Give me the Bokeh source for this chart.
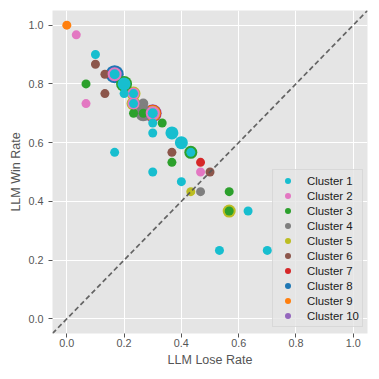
from bokeh.plotting import figure
from bokeh.models import (ColumnDataSource, Legend, LegendItem, Slope, FixedTicker,
                          Range1d, PrintfTickFormatter)
from bokeh.embed import file_html
from bokeh.resources import INLINE

# ---------------- data ----------------
cluster_names = ["Cluster 1", "Cluster 2", "Cluster 3", "Cluster 4", "Cluster 5",
                 "Cluster 6", "Cluster 7", "Cluster 8", "Cluster 9", "Cluster 10"]
cluster_colors = ["#17becf", "#e377c2", "#2ca02c", "#7f7f7f", "#bcbd22",
                  "#8c564b", "#d62728", "#1f77b4", "#ff7f0e", "#9467bd"]

c1_lose = [0.100, 0.167, 0.200, 0.200, 0.233, 0.233, 0.300, 0.300, 0.300, 0.367,
           0.400, 0.167, 0.433, 0.300, 0.400, 0.633, 0.533, 0.700]
c1_win = [0.900, 0.833, 0.800, 0.767, 0.767, 0.733, 0.700, 0.667, 0.633, 0.633,
          0.600, 0.567, 0.567, 0.500, 0.467, 0.367, 0.233, 0.233]
c1_size = [9, 10, 13, 9, 9, 9, 10, 9, 9, 13, 13, 9, 9, 9, 9, 9, 9, 9]

c2_lose = [0.033, 0.067, 0.167, 0.233, 0.233, 0.300, 0.467]
c2_win = [0.967, 0.733, 0.833, 0.767, 0.733, 0.700, 0.500]
c2_size = [9, 9, 14, 12, 12, 14, 9]

c3_lose = [0.067, 0.200, 0.233, 0.267, 0.333, 0.367, 0.433, 0.567, 0.567]
c3_win = [0.800, 0.800, 0.700, 0.700, 0.667, 0.533, 0.567, 0.433, 0.367]
c3_size = [9, 16, 9, 9, 9, 9, 13, 9, 9]

c4_lose = [0.267, 0.267, 0.467]
c4_win = [0.733, 0.700, 0.433]
c4_size = [10, 16, 9]

c5_lose = [0.233, 0.233, 0.300, 0.433, 0.567]
c5_win = [0.767, 0.733, 0.700, 0.433, 0.367]
c5_size = [14, 14, 15, 9, 13]

c6_lose = [0.100, 0.133, 0.133, 0.367, 0.500]
c6_win = [0.867, 0.833, 0.767, 0.567, 0.500]
c6_size = [9, 9, 9, 9, 9]

c7_lose = [0.467, 0.300]
c7_win = [0.533, 0.700]
c7_size = [9, 17]

c8_lose = [0.167]
c8_win = [0.833]
c8_size = [18]

c9_lose = [0.000, 0.300]
c9_win = [1.000, 0.700]
c9_size = [9, 16]

c10_lose = [0.300]
c10_win = [0.700]
c10_size = [18]

axis_ticks = [0.0, 0.2, 0.4, 0.6, 0.8, 1.0]

all_lose = [c1_lose, c2_lose, c3_lose, c4_lose, c5_lose, c6_lose, c7_lose, c8_lose, c9_lose, c10_lose]
all_win = [c1_win, c2_win, c3_win, c4_win, c5_win, c6_win, c7_win, c8_win, c9_win, c10_win]
all_size = [c1_size, c2_size, c3_size, c4_size, c5_size, c6_size, c7_size, c8_size, c9_size, c10_size]

# drawing order (0-based cluster index), bottom layer first
draw_order = [9, 6, 8, 7, 5, 4, 3, 2, 1, 0]

FONT = "Liberation Sans"

p = figure(width=379, height=379,
           x_range=Range1d(-0.05, 1.05), y_range=Range1d(-0.05, 1.05),
           output_backend="svg", toolbar_location=None,
           min_border_left=52, min_border_right=12, min_border_top=10, min_border_bottom=46,
           background_fill_color="#E5E5E5", border_fill_color="white",
           x_axis_label="LLM Lose Rate", y_axis_label="LLM Win Rate")
p.outline_line_color = None

for ax in (p.xaxis[0], p.yaxis[0]):
    ax.ticker = FixedTicker(ticks=axis_ticks)
    ax.formatter = PrintfTickFormatter(format="%.1f")
    ax.axis_line_color = None
    ax.major_tick_line_color = "#555555"
    ax.major_tick_out = 4
    ax.major_tick_in = 0
    ax.minor_tick_line_color = None
    ax.major_label_text_color = "#555555"
    ax.major_label_text_font = FONT
    ax.major_label_text_font_size = "10.8px"
    ax.axis_label_text_color = "#555555"
    ax.axis_label_text_font = FONT
    ax.axis_label_text_font_size = "12.5px"
    ax.axis_label_text_font_style = "normal"

p.xaxis.major_label_standoff = 1
p.xaxis.axis_label_standoff = 3
p.yaxis.major_label_standoff = 5
p.yaxis.axis_label_standoff = 2

p.grid.grid_line_color = "white"
p.grid.grid_line_width = 1

renderers = {}
for i in draw_order:
    src = ColumnDataSource(dict(x=all_lose[i], y=all_win[i], s=all_size[i]))
    r = p.scatter("x", "y", size="s", source=src, fill_color=cluster_colors[i],
                  line_color=None)
    renderers[i] = r

p.add_layout(Slope(gradient=1, y_intercept=0, line_color="#555555", line_width=1.7,
                   line_dash="5 3", line_alpha=0.9))

legend = Legend(items=[LegendItem(label=cluster_names[i], renderers=[renderers[i]]) for i in range(10)],
                location=(220, 6), padding=3, margin=0, spacing=0,
                glyph_width=23, glyph_height=15, label_height=15, label_standoff=8,
                label_text_font=FONT, label_text_font_size="11.4px", label_text_color="#1a1a1a",
                background_fill_color="#E5E5E5", background_fill_alpha=0.8,
                border_line_color="#cccccc", border_line_width=1)
p.add_layout(legend)

open("out.html", "w").write(file_html(p, INLINE))
